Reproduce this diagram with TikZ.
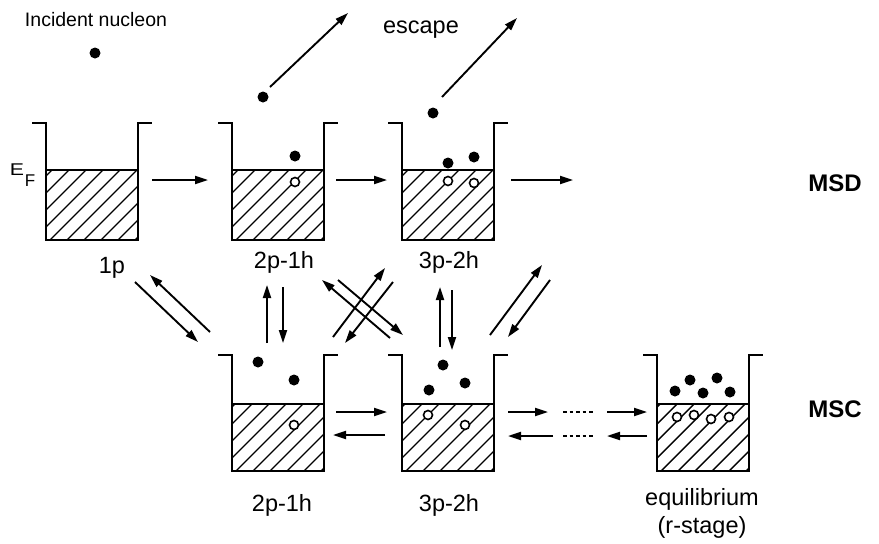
\documentclass[tikz,border=0pt]{standalone}
\usepackage{fontspec}
\setmainfont{Liberation Sans}
\usetikzlibrary{arrows.meta}

\newcommand\drawwell[5]{% #1 name, #2 left x, #3 top y, #4 fermi y, #5 bottom y
  \begin{scope}
    \clip (#2,#4) rectangle (#2+92,#5);
    \foreach \k in {-6,...,6} {\draw[hatchline] (#2+\k*17+4,#5) -- ++(130,-130);}
  \end{scope}
  \draw[wall] (#2-14,#3) -- (#2,#3) -- (#2,#5) -- (#2+92,#5) -- (#2+92,#3) -- (#2+106,#3);
  \draw[wall] (#2,#4) -- (#2+92,#4);
  \coordinate (#1) at (#2+46,#5);
}

\begin{document}
\begin{tikzpicture}[x=1pt,y=-1pt,
  wall/.style={line width=2.3pt},
  hatchline/.style={line width=1.4pt},
  arr/.style={line width=1.9pt,-{Triangle[length=13pt,width=8pt]}},
  dotline/.style={line width=1.8pt,dash pattern=on 3.5pt off 3pt},
  particle/.style={circle,fill=black,inner sep=0pt,minimum size=11pt},
  hole/.style={circle,draw=black,fill=white,line width=1.6pt,inner sep=0pt,minimum size=9pt},
  lab/.style={font=\fontsize{23.5}{25}\selectfont},
  big/.style={font=\bfseries\fontsize{24}{26}\selectfont},
  ]
\useasboundingbox (0,0) rectangle (879,544);

% wells
\drawwell{w1}{46}{123}{170}{240}
\drawwell{w2}{232}{123}{170}{240}
\drawwell{w3}{402}{123}{170}{240}
\drawwell{w4}{232}{355}{404}{471}
\drawwell{w5}{402}{355}{404}{471}
\drawwell{w6}{657}{355}{404}{471}

% Fermi label
\node[font=\fontsize{17}{17}\selectfont,xscale=1.25] (eF) at (17,170) {E};
\node[font=\fontsize{17}{17}\selectfont] (eFs) at (30,181) {F};

% texts
\node[font=\fontsize{19.5}{21}\selectfont] (inc) at (96,20) {Incident nucleon};
\node[lab] (esc) at (421,30) {escape};
\node[lab] (l1) at (112,268) {1p};
\node[lab] (l2) at (284,262) {2p-1h};
\node[lab] (l3) at (449,262) {3p-2h};
\node[lab] (l4) at (282,505) {2p-1h};
\node[lab] (l5) at (449,505) {3p-2h};
\node[lab] (l6) at (702,499) {equilibrium};
\node[lab] (l7) at (702,527) {(r-stage)};
\node[big] (msd) at (835,183) {MSD};
\node[big] (msc) at (835,409) {MSC};

% particles and holes
\node[particle] (pin) at (95,53) {};
\node[particle] (pe2) at (263,97) {};
\node[particle] (pe3) at (433,113) {};
\node[particle] (p2a) at (295,156) {};
\node[hole] (h2a) at (295,182) {};
\node[particle] (p3a) at (448,163) {};
\node[particle] (p3b) at (474,157) {};
\node[hole] (h3a) at (448,181) {};
\node[hole] (h3b) at (474,183) {};
\node[particle] (p4a) at (258,362) {};
\node[particle] (p4b) at (294,380) {};
\node[hole] (h4a) at (294,425) {};
\node[particle] (p5a) at (443,365) {};
\node[particle] (p5b) at (429,390) {};
\node[particle] (p5c) at (465,383) {};
\node[hole] (h5a) at (428,415) {};
\node[hole] (h5b) at (465,425) {};
\node[particle] (p6a) at (675,391) {};
\node[particle] (p6b) at (690,380) {};
\node[particle] (p6c) at (703,393) {};
\node[particle] (p6d) at (717,378) {};
\node[particle] (p6e) at (730,392) {};
\node[hole] (h6a) at (677,417) {};
\node[hole] (h6b) at (694,415) {};
\node[hole] (h6c) at (711,419) {};
\node[hole] (h6d) at (729,417) {};

% arrow end points
\coordinate (e2s) at (270,87);  \coordinate (e2e) at (348,13);
\coordinate (e3s) at (442,97);  \coordinate (e3e) at (517,18);
\coordinate (t1s) at (152,180); \coordinate (t1e) at (208,180);
\coordinate (t2s) at (336,180); \coordinate (t2e) at (387,180);
\coordinate (t3s) at (511,180); \coordinate (t3e) at (573,180);
\coordinate (d1s) at (135,282); \coordinate (d1e) at (198,342);
\coordinate (d2s) at (210,332); \coordinate (d2e) at (150,275);
\coordinate (v1s) at (267,343); \coordinate (v1e) at (267,285);
\coordinate (v2s) at (283,287); \coordinate (v2e) at (283,343);
\coordinate (x1s) at (390,338); \coordinate (x1e) at (322,280);
\coordinate (x2s) at (338,280); \coordinate (x2e) at (403,335);
\coordinate (x3s) at (333,337); \coordinate (x3e) at (385,268);
\coordinate (x4s) at (393,282); \coordinate (x4e) at (345,343);
\coordinate (v3s) at (440,347); \coordinate (v3e) at (440,287);
\coordinate (v4s) at (452,290); \coordinate (v4e) at (452,350);
\coordinate (r1s) at (490,335); \coordinate (r1e) at (542,265);
\coordinate (r2s) at (550,280); \coordinate (r2e) at (508,337);
\coordinate (b1s) at (336,412); \coordinate (b1e) at (387,412);
\coordinate (b2s) at (385,435); \coordinate (b2e) at (333,435);
\coordinate (b3s) at (508,412); \coordinate (b3e) at (548,412);
\coordinate (b4s) at (607,412); \coordinate (b4e) at (647,412);
\coordinate (b5s) at (553,436); \coordinate (b5e) at (508,436);
\coordinate (b6s) at (647,436); \coordinate (b6e) at (607,436);
\coordinate (dt1s) at (563,412); \coordinate (dt1e) at (593,412);
\coordinate (dt2s) at (563,436); \coordinate (dt2e) at (593,436);

\foreach \a in {e2,e3,t1,t2,t3,d1,d2,v1,v2,x1,x2,x3,x4,v3,v4,r1,r2,b1,b2,b3,b4,b5,b6}
  {\draw[arr] (\a s) -- (\a e);}
\draw[dotline] (dt1s) -- (dt1e);
\draw[dotline] (dt2s) -- (dt2e);
\end{tikzpicture}
\end{document}
